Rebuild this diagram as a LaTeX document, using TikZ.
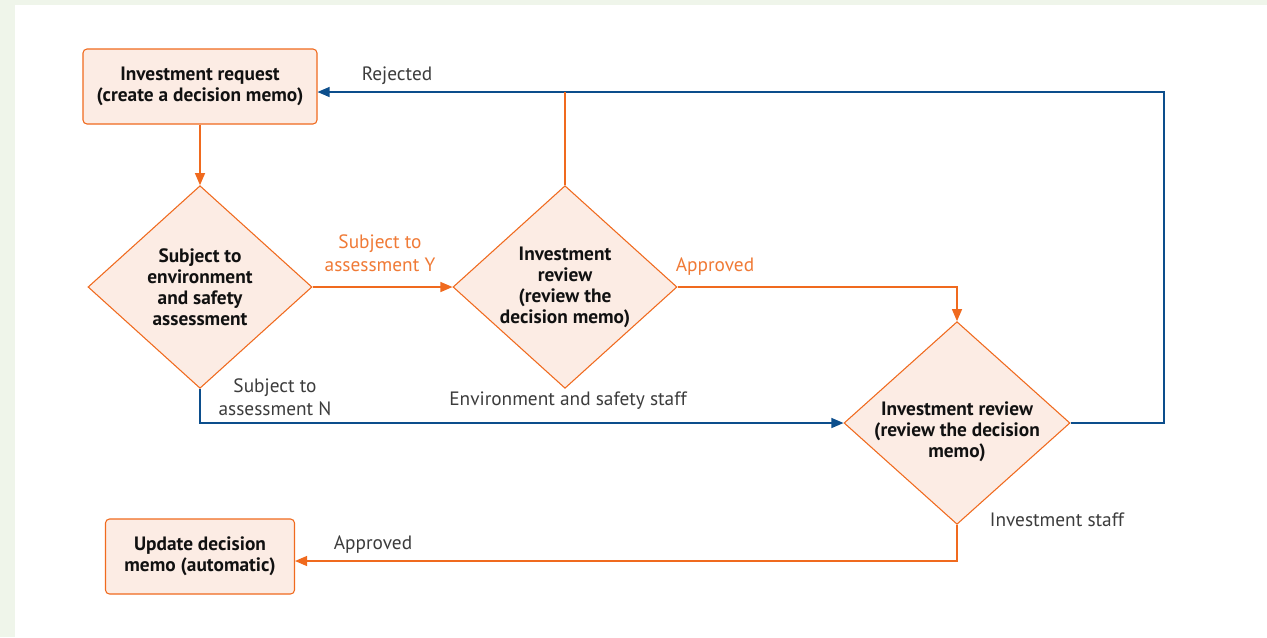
\documentclass[tikz,border=0pt]{standalone}
\usepackage{fontspec}
\setmainfont{PT Sans}
\usepackage{tikz}
\usetikzlibrary{arrows.meta,positioning,calc,shapes.geometric}
\definecolor{bg}{HTML}{EFF5EA}
\definecolor{og}{HTML}{F06A1E}
\definecolor{ogtxt}{HTML}{F07A36}
\definecolor{fl}{HTML}{FCECE4}
\definecolor{bl}{HTML}{0C4E8C}
\definecolor{gy}{HTML}{3C3C3C}
\definecolor{tx}{HTML}{111111}

\begin{document}
\begin{tikzpicture}[x=0.75pt,y=-0.75pt,
    box/.style={draw=og, fill=fl, rounded corners=3pt, line width=0.8pt, align=center,
      font=\fontsize{14.5}{15.75}\selectfont\bfseries, text=tx},
    dia/.style={diamond, aspect=1.12, draw=og, fill=fl, line width=0.8pt, align=center, inner sep=-2pt,
      minimum width=168pt, minimum height=152pt, font=\fontsize{14.5}{15.75}\selectfont\bfseries, text=tx},
    diatext/.style={align=center, font=\fontsize{14.5}{15.75}\selectfont\bfseries, text=tx},
    lbl/.style={font=\fontsize{14.5}{17}\selectfont, text=gy, align=center},
    olbl/.style={lbl, text=ogtxt},
    oarr/.style={draw=og, line width=0.9pt, -{Triangle[length=9pt,width=7.5pt]}},
    barr/.style={draw=bl, line width=0.9pt, -{Triangle[length=9pt,width=7.5pt]}}]
  \fill[bg] (0,0) rectangle (1267,637);
  \fill[white] (15,5) rectangle (1267,637);
  \node[box, minimum width=175.5pt, minimum height=56.25pt] (req) at (200,86.5) {Investment request\\(create a decision memo)};
  \node[dia] (env) at (200,287) {Subject to\\environment\\and safety\\assessment};
  \node[dia] (rev1) at (565,287) {Investment\\review\\(review the\\decision memo)};
  \node[dia, minimum width=169.5pt] (rev2) at (957,423) {};
  \node[diatext] (rev2txt) at ([yshift=-6.5pt]rev2.center) {Investment review\\(review the decision\\memo)};
  \node[box, minimum width=141.75pt, minimum height=56.25pt] (upd) at (200,556.5) {Update decision\\memo (automatic)};
  \coordinate (rj) at (1164,92);
  \coordinate (ap) at (957,561);
  \draw[oarr] (req) -- (env);
  \draw[oarr] (env.east) -- (rev1.west);
  \draw[oarr] (rev1.east) -| (rev2.north);
  \draw[barr] (rev2.east) -| (rj) -- (req.east |- rj);
  \draw[draw=og, line width=0.9pt] (rev1.north) -- (rev1.north |- rj);
  \draw[barr] (env.south) |- (rev2.west);
  \draw[oarr] (rev2.south) -- (ap) -- (upd.east |- ap);
  \node[lbl] (lrej) at (397,76) {Rejected};
  \node[olbl] (ly) at (380,253) {Subject to\\assessment Y};
  \node[olbl] (lap1) at (715,267) {Approved};
  \node[lbl] (ln) at (275,397.5) {Subject to\\assessment N};
  \node[lbl] (lenv) at (568,401) {Environment and safety staff};
  \node[lbl] (linv) at (1057,520) {Investment staff};
  \node[lbl] (lap2) at (373,545) {Approved};
\end{tikzpicture}
\end{document}
